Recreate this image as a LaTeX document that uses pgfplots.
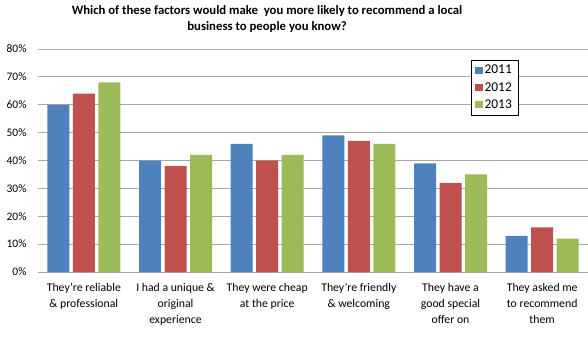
\documentclass[border=0pt]{standalone}
\usepackage{pgfplots}
\pgfplotsset{compat=1.18}
\usepackage{fontspec}
\setmainfont{Carlito}
\definecolor{cA}{HTML}{4F81BD}
\definecolor{cB}{HTML}{C0504D}
\definecolor{cC}{HTML}{9BBB59}
\definecolor{gridc}{HTML}{A6A6A6}
\begin{document}
\begin{tikzpicture}[x=1bp,y=1bp]
\path[use as bounding box] (0,0) rectangle (588,354);
\node[font=\fontsize{12.8}{16.5}\selectfont\bfseries, align=center] at (267,335)
  {Which of these factors would make\ \ you more likely to recommend a local\\business to people you know?};
\begin{axis}[
  at={(38bp,82bp)}, anchor=south west,
  scale only axis, width=550bp, height=223bp,
  ybar=3.5bp, bar width=22bp,
  xmin=-0.5, xmax=5.5, ymin=0, ymax=80,
  enlargelimits=false,
  ytick={0,10,...,80},
  yticklabel={\pgfmathprintnumber{\tick}\%},
  xtick={0,1,2,3,4,5},
  xticklabels={{They’re reliable\\\& professional},{I had a unique \&\\original\\experience},{They were cheap\\at the price},{They’re friendly\\\& welcoming},{They have a\\good special\\offer on},{They asked me\\to recommend\\them}},
  xticklabel style={align=center, font=\fontsize{11.8}{16}\selectfont, yshift=-8bp},
  yticklabel style={font=\fontsize{11.5}{12}\selectfont, xshift=-8bp},
  /pgf/number format/assume math mode=true,
  axis line style={draw=none},
  ymajorgrids, major grid style={draw=gridc, line width=0.8bp},
  major tick length=0,
  legend style={at={(0.873,0.951)}, anchor=north east, draw=black, line width=0.6bp,
    font=\fontsize{13.5}{15}\selectfont, legend cell align=left, row sep=3bp, inner xsep=4bp, inner ysep=3bp},
  legend image code/.code={\fill[#1] (0bp,-3.5bp) rectangle (7.5bp,3.5bp);},
]
\addplot[fill=cA, draw=none] coordinates {(0,60) (1,40) (2,46) (3,49) (4,39) (5,13)};
\addplot[fill=cB, draw=none] coordinates {(0,64) (1,38) (2,40) (3,47) (4,32) (5,16)};
\addplot[fill=cC, draw=none] coordinates {(0,68) (1,42) (2,42) (3,46) (4,35) (5,12)};
\legend{2011,2012,2013}
\end{axis}
\end{tikzpicture}
\end{document}
